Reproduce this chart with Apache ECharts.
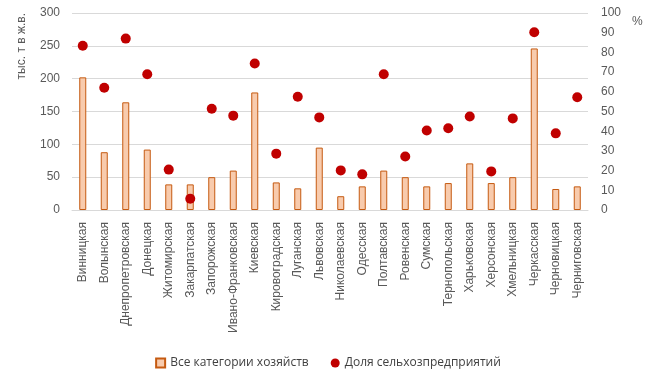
<!DOCTYPE html>
<html><head><meta charset="utf-8">
<script src="https://cdn.jsdelivr.net/npm/echarts@6/dist/echarts.min.js"></script>
<style>html,body{margin:0;padding:0;background:#fff}#c{width:656px;height:380px}</style>
</head><body><div id="c"></div>
<script>
const categories = ['Винницкая','Волынская','Днепропетровская','Донецкая','Житомирская','Закарпатская','Запорожская','Ивано-Франковская','Киевская','Кировоградская','Луганская','Львовская','Николаевская','Одесская','Полтавская','Ровенская','Сумская','Тернопольская','Харьковская','Херсонская','Хмельницкая','Черкасская','Черновицкая','Черниговская'];
const allFarms = [202,88,164,92,39,39,50,60,179,42,33,95,21,36,60,50,36,41,71,41,50,246,32,36];
const agriShare = [83.4,62.1,87,68.9,20.5,5.7,51.4,47.9,74.4,28.6,57.5,47,20.1,18.1,68.9,27.2,40.4,41.5,47.5,19.6,46.5,90.2,38.9,57.2];
const leftTicks = {min:0,max:300,interval:50};
const rightTicks = {min:0,max:100,interval:10};

const chart = echarts.init(document.getElementById('c'));
const axisFont = {color:'#595959', fontSize:12, fontFamily:'Liberation Sans, Arial, sans-serif'};
chart.setOption({
  animation:false,
  grid:{left:72,right:68,top:13,bottom:170},
  legend:{
    bottom:6, left:'center', itemWidth:9, itemHeight:9, itemGap:22,
    textStyle:{color:'#404040', fontSize:12, fontFamily:'Open Sans, sans-serif'},
    data:[{name:'Все категории хозяйств', icon:'rect'},{name:'Доля сельхозпредприятий', icon:'circle'}]
  },
  xAxis:{type:'category', data:categories,
    axisLine:{lineStyle:{color:'#d9d9d9'}}, axisTick:{show:false},
    axisLabel:Object.assign({rotate:90, interval:0, margin:12}, axisFont)},
  yAxis:[
    {type:'value', min:leftTicks.min, max:leftTicks.max, interval:leftTicks.interval,
     axisLabel:Object.assign({margin:12}, axisFont), splitLine:{lineStyle:{color:'#d9d9d9'}}},
    {type:'value', min:rightTicks.min, max:rightTicks.max, interval:rightTicks.interval,
     axisLabel:Object.assign({margin:13}, axisFont), splitLine:{show:false}}
  ],
  graphic:[
    {type:'text', x:22, y:13, rotation:Math.PI/2,
     style:{text:'тыс. т в ж.в.', fill:'#595959', font:'12px Liberation Sans, Arial, sans-serif', align:'right', verticalAlign:'middle'}},
    {type:'text', x:632, y:16,
     style:{text:'%', fill:'#595959', font:'12px Liberation Sans, Arial, sans-serif', align:'left', verticalAlign:'top'}}
  ],
  series:[
    {name:'Все категории хозяйств', type:'bar', data:allFarms, barWidth:7,
     itemStyle:{color:'#F8CBAD', borderColor:'#C55A11', borderWidth:1}},
    {name:'Доля сельхозпредприятий', type:'scatter', yAxisIndex:1, data:agriShare, symbolSize:10,
     itemStyle:{color:'#C00000', opacity:1}}
  ]
});
</script></body></html>
